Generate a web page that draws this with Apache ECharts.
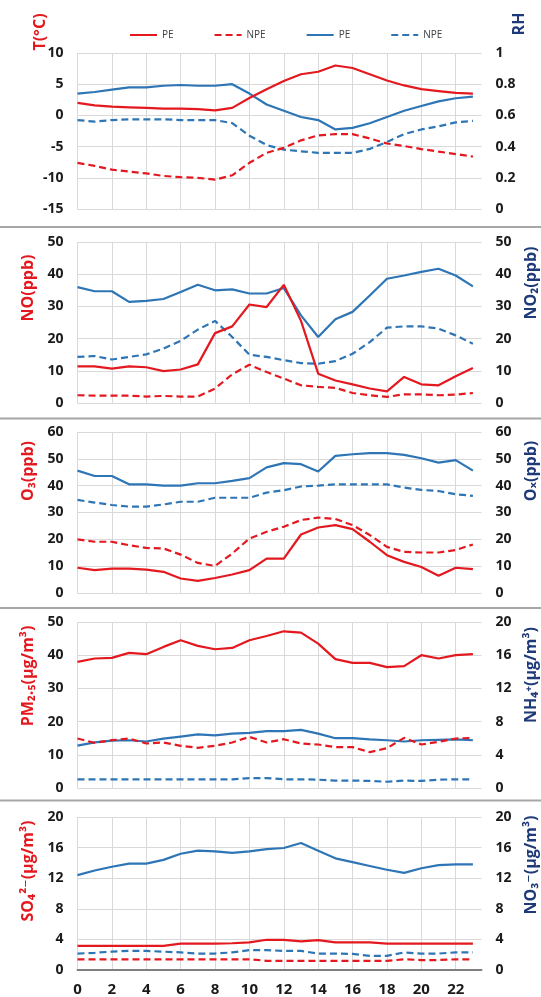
<!DOCTYPE html>
<html>
<head>
<meta charset="utf-8">
<script src="https://cdn.jsdelivr.net/npm/echarts@6/dist/echarts.min.js"></script>
<style>
  html, body { margin: 0; padding: 0; background: #fff; }
  #chart { width: 541px; height: 997px; }
</style>
</head>
<body>
<div id="chart"></div>
<script>
// hour of day
const hours = [0, 1, 2, 3, 4, 5, 6, 7, 8, 9, 10, 11, 12, 13, 14, 15, 16, 17, 18, 19, 20, 21, 22, 23];

// panel 1: temperature (left) and RH (right)
const tPE = [2.0, 1.6, 1.4, 1.3, 1.2, 1.1, 1.1, 1.0, 0.8, 1.2, 2.8, 4.2, 5.5, 6.6, 7.0, 8.0, 7.6, 6.6, 5.6, 4.8, 4.2, 3.9, 3.6, 3.5];
const tNPE = [-7.6, -8.1, -8.7, -9.0, -9.3, -9.7, -9.9, -10.0, -10.3, -9.6, -7.6, -6.0, -5.2, -4.0, -3.2, -3.0, -3.0, -3.7, -4.5, -4.9, -5.4, -5.8, -6.2, -6.6];
const rhPE = [0.74, 0.75, 0.765, 0.78, 0.78, 0.79, 0.795, 0.79, 0.79, 0.80, 0.74, 0.67, 0.63, 0.59, 0.57, 0.51, 0.52, 0.55, 0.59, 0.63, 0.66, 0.69, 0.71, 0.72];
const rhNPE = [0.57, 0.56, 0.57, 0.575, 0.575, 0.575, 0.57, 0.57, 0.57, 0.55, 0.47, 0.41, 0.38, 0.37, 0.36, 0.36, 0.36, 0.385, 0.43, 0.48, 0.51, 0.53, 0.555, 0.565];

// panel 2: NO (left) and NO2 (right)
const noPE = [11.4, 11.4, 10.7, 11.4, 11.1, 9.9, 10.4, 12.0, 21.7, 23.8, 30.6, 29.8, 36.7, 25.5, 9.1, 7.0, 5.8, 4.5, 3.6, 8.1, 5.8, 5.5, 8.3, 10.9];
const noNPE = [2.4, 2.3, 2.3, 2.3, 2.0, 2.2, 2.0, 2.0, 4.5, 8.9, 11.9, 9.6, 7.6, 5.5, 5.0, 4.7, 3.1, 2.4, 1.9, 2.7, 2.7, 2.4, 2.6, 3.1];
const no2PE = [36.0, 34.7, 34.7, 31.4, 31.7, 32.3, 34.5, 36.7, 35.0, 35.3, 34.0, 34.0, 35.7, 27.2, 20.5, 26.0, 28.3, 33.4, 38.6, 39.6, 40.7, 41.7, 39.6, 36.2];
const no2NPE = [14.3, 14.6, 13.5, 14.3, 15.1, 16.9, 19.3, 22.8, 25.5, 20.5, 15.0, 14.3, 13.3, 12.4, 12.2, 13.0, 15.3, 18.9, 23.4, 23.8, 23.8, 23.1, 21.0, 18.4];

// panel 3: O3 (left) and Ox (right)
const o3PE = [9.4, 8.5, 9.1, 9.1, 8.7, 7.9, 5.4, 4.5, 5.6, 6.9, 8.5, 12.8, 12.8, 21.8, 24.4, 25.3, 23.8, 19.1, 14.1, 11.6, 9.7, 6.4, 9.4, 8.9];
const o3NPE = [20.0, 19.1, 19.1, 17.8, 16.8, 16.6, 14.3, 11.2, 10.1, 14.7, 20.3, 22.8, 24.7, 27.2, 28.1, 27.6, 25.3, 21.6, 17.2, 15.3, 15.1, 15.1, 16.0, 18.1];
const oxPE = [45.6, 43.6, 43.6, 40.5, 40.5, 40.0, 40.0, 40.9, 40.9, 41.8, 42.8, 46.8, 48.4, 48.0, 45.3, 51.1, 51.7, 52.1, 52.1, 51.5, 50.2, 48.6, 49.5, 45.6];
const oxNPE = [34.7, 33.7, 32.8, 32.2, 32.2, 33.0, 34.0, 34.0, 35.5, 35.5, 35.5, 37.4, 38.3, 39.7, 40.0, 40.5, 40.5, 40.5, 40.5, 39.3, 38.4, 38.0, 36.8, 36.2];

// panel 4: PM2.5 (left) and NH4+ (right)
const pmPE = [38.0, 39.0, 39.2, 40.7, 40.3, 42.5, 44.5, 42.8, 41.8, 42.2, 44.5, 45.8, 47.2, 46.8, 43.5, 38.8, 37.7, 37.7, 36.4, 36.7, 40.0, 39.0, 40.0, 40.3];
const pmNPE = [14.9, 13.6, 14.4, 14.9, 13.4, 13.7, 12.7, 12.1, 12.7, 13.7, 15.4, 13.7, 14.7, 13.4, 13.1, 12.3, 12.3, 10.8, 12.0, 15.1, 13.1, 13.9, 14.9, 15.1];
const nh4PE = [5.1, 5.5, 5.7, 5.75, 5.6, 5.95, 6.2, 6.45, 6.35, 6.55, 6.65, 6.85, 6.85, 7.0, 6.55, 6.0, 6.0, 5.85, 5.75, 5.6, 5.75, 5.8, 5.85, 5.75];
const nh4NPE = [1.05, 1.05, 1.05, 1.05, 1.05, 1.05, 1.05, 1.05, 1.05, 1.05, 1.2, 1.2, 1.05, 1.05, 1.0, 0.9, 0.9, 0.85, 0.75, 0.9, 0.85, 1.0, 1.05, 1.05];

// panel 5: SO4 2- (left) and NO3- (right)
const so4PE = [3.15, 3.15, 3.15, 3.15, 3.15, 3.15, 3.45, 3.45, 3.45, 3.5, 3.6, 3.95, 3.95, 3.75, 3.9, 3.6, 3.6, 3.6, 3.45, 3.45, 3.45, 3.45, 3.45, 3.45];
const so4NPE = [1.4, 1.4, 1.4, 1.4, 1.4, 1.4, 1.4, 1.4, 1.4, 1.4, 1.4, 1.2, 1.2, 1.2, 1.2, 1.2, 1.2, 1.2, 1.2, 1.4, 1.3, 1.3, 1.4, 1.4];
const no3PE = [12.4, 13.0, 13.5, 13.9, 13.9, 14.4, 15.2, 15.6, 15.5, 15.3, 15.5, 15.8, 15.95, 16.6, 15.6, 14.6, 14.1, 13.6, 13.1, 12.7, 13.3, 13.7, 13.8, 13.8];
const no3NPE = [2.15, 2.25, 2.4, 2.5, 2.5, 2.4, 2.3, 2.15, 2.15, 2.3, 2.6, 2.6, 2.5, 2.5, 2.15, 2.15, 2.1, 1.85, 1.85, 2.3, 2.15, 2.15, 2.3, 2.3];

const RED = '#e3191f';
const BLUE = '#2e75b6';
const NAVY = '#1f3a78';
const FONT = "'Open Sans', 'DejaVu Sans', sans-serif";

// panel layout (top, height) and y ranges
const panels = [
  { top: 53, height: 156, left: [-15, 10, 5], right: [0, 1, 0.2] },
  { top: 242, height: 161, left: [0, 50, 10], right: [0, 50, 10] },
  { top: 432, height: 161, left: [0, 60, 10], right: [0, 60, 10] },
  { top: 622, height: 166, left: [0, 50, 10], right: [0, 20, 4] },
  { top: 817, height: 153, left: [0, 20, 4], right: [0, 20, 4] }
];

const seriesSets = [
  [tPE, tNPE, rhPE, rhNPE],
  [noPE, noNPE, no2PE, no2NPE],
  [o3PE, o3NPE, oxPE, oxNPE],
  [pmPE, pmNPE, nh4PE, nh4NPE],
  [so4PE, so4NPE, no3PE, no3NPE]
];

const legendNames = ['T_PE', 'T_NPE', 'RH_PE', 'RH_NPE'];

const titles = [
  { left: 'T(°C)', lx: 40, ly: 32, right: 'RH', rx: 519, ry: 24 },
  { left: 'NO(ppb)', lx: 28, ly: 288, right: 'NO₂(ppb)', rx: 531, ry: 283 },
  { left: 'O₃(ppb)', lx: 28, ly: 471, right: 'Oₓ(ppb)', rx: 531, ry: 471 },
  { left: 'PM₂.₅(μg/m³)', lx: 28, ly: 676, right: 'NH₄⁺(μg/m³)', rx: 531, ry: 675 },
  { left: 'SO₄²⁻(μg/m³)', lx: 28, ly: 871, right: 'NO₃⁻(μg/m³)', rx: 531, ry: 865 }
];

const grid = [], xAxis = [], yAxis = [], series = [], graphic = [];

const tickLabel = { color: '#1a1a1a', fontSize: 14, fontWeight: 'bold', fontFamily: FONT, margin: 14 };

panels.forEach((p, i) => {
  const last = i === panels.length - 1;
  grid.push({ left: 77.5, right: 59.5, top: p.top, height: p.height });
  xAxis.push({
    type: 'value', gridIndex: i, min: 0, max: 23.5, interval: 2,
    axisLine: { show: last, lineStyle: { color: '#7f7f7f', width: 2 } },
    axisTick: { show: false },
    axisLabel: { show: last, showMaxLabel: false, color: '#1a1a1a', fontSize: 15, fontWeight: 'bold', fontFamily: FONT, margin: 12 },
    splitLine: { show: true, showMaxLine: false, lineStyle: { color: '#d9d9d9', width: 1 } }
  });
  yAxis.push({
    type: 'value', gridIndex: i, position: 'left',
    min: p.left[0], max: p.left[1], interval: p.left[2],
    axisLine: { show: false }, axisTick: { show: false },
    axisLabel: tickLabel,
    splitLine: { show: true, lineStyle: { color: '#d9d9d9', width: 1 } }
  });
  yAxis.push({
    type: 'value', gridIndex: i, position: 'right',
    min: p.right[0], max: p.right[1], interval: p.right[2],
    axisLine: { show: false }, axisTick: { show: false },
    axisLabel: tickLabel,
    splitLine: { show: false }
  });

  const set = seriesSets[i];
  const styles = [
    { color: RED, type: 'solid', axis: 0 },
    { color: RED, type: [7, 4], axis: 0 },
    { color: BLUE, type: 'solid', axis: 1 },
    { color: BLUE, type: [7, 4], axis: 1 }
  ];
  styles.forEach((s, k) => {
    series.push({
      name: i === 0 ? legendNames[k] : 'p' + i + '_' + k,
      type: 'line',
      xAxisIndex: i,
      yAxisIndex: i * 2 + s.axis,
      symbol: 'none',
      z: k < 2 ? 3 : 2,
      color: s.color,
      lineStyle: { color: s.color, width: 2.2, type: s.type },
      data: hours.map((h, j) => [h, set[k][j]])
    });
  });

  const t = titles[i];
  graphic.push({
    type: 'text', x: t.lx, y: t.ly, rotation: Math.PI / 2,
    style: { text: t.left, fill: RED, font: 'bold 16px ' + FONT, textAlign: 'center', textVerticalAlign: 'middle' }
  });
  graphic.push({
    type: 'text', x: t.rx, y: t.ry, rotation: Math.PI / 2,
    style: { text: t.right, fill: NAVY, font: 'bold 16px ' + FONT, textAlign: 'center', textVerticalAlign: 'middle' }
  });
});

// grey separators between the panels
[227, 418.5, 608, 800.5].forEach(y => {
  graphic.push({
    type: 'line', shape: { x1: 0, y1: y, x2: 541, y2: y },
    style: { stroke: '#a6a6a6', lineWidth: 2 }
  });
});

const chart = echarts.init(document.getElementById('chart'), null, { renderer: 'canvas' });
chart.setOption({
  animation: false,
  backgroundColor: '#fff',
  legend: {
    data: legendNames,
    left: 124, top: 25,
    itemWidth: 27, itemHeight: 10, itemGap: 40,
    itemStyle: { opacity: 0 },
    formatter: name => name.split('_')[1],
    textStyle: { color: '#404040', fontSize: 10, fontFamily: FONT }
  },
  grid: grid,
  xAxis: xAxis,
  yAxis: yAxis,
  series: series,
  graphic: graphic
});
</script>
</body>
</html>
